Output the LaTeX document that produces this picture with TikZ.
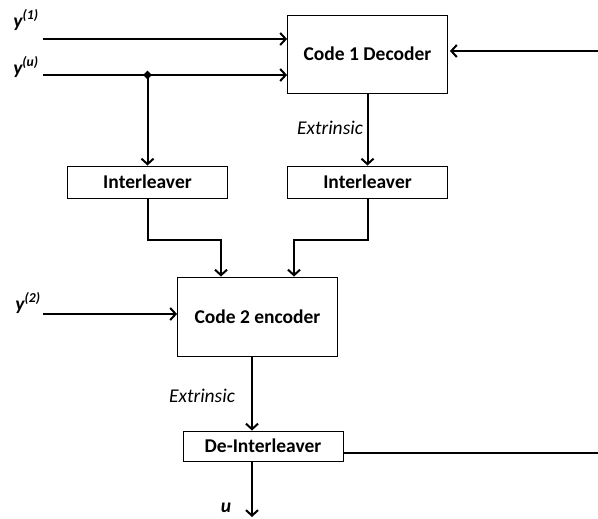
\documentclass[tikz,border=0pt]{standalone}
\usepackage{fontspec}
\setmainfont{Carlito}
\usetikzlibrary{arrows.meta,shapes.geometric}

\begin{document}
\begin{tikzpicture}[x=1pt, y=-1pt,
		block/.style = {draw, line width=0.9pt, minimum width=160pt, inner sep=0pt, font=\fontsize{19.5}{22}\selectfont\bfseries},
		sig/.style = {line width=2pt, -{Straight Barb[length=5.5pt,width=12pt,line width=2pt]}},
		lbl/.style = {font=\fontsize{19.5}{22}\selectfont\bfseries\itshape, inner sep=0pt},
		ext/.style = {font=\fontsize{19.5}{22}\selectfont\itshape, inner sep=0pt}]
			\useasboundingbox (0,0) rectangle (598,519);

			\node[block, minimum height=78pt] (dec1) at (367.5,54) {Code 1 Decoder};
			\node[block, minimum height=32pt] (il1) at (147.5,182) {Interleaver};
			\node[block, minimum height=32pt] (il2) at (367.5,182) {Interleaver};
			\node[block, minimum height=79pt] (enc2) at (257.5,316.5) {Code 2 encoder};
			\node[block, minimum height=30pt] (deil) at (263,446) {De-Interleaver};

			\node[lbl] (y1) at (26,20) {y\textsuperscript{(1)}};
			\node[lbl] (yu) at (26,67) {y\textsuperscript{(u)}};
			\node[lbl] (y2) at (28,303) {y\textsuperscript{(2)}};
			\node[lbl] (u) at (226,508) {u};
			\node[ext] (x1) at (330,128) {Extrinsic};
			\node[ext] (x2) at (202,396) {Extrinsic};

			\coordinate (in1) at (43,39);
			\coordinate (inu) at (43,75);
			\coordinate (in2) at (43,314);
			\coordinate (fb1) at (598,51);
			\coordinate (fb2) at (598,453);
			\coordinate (uend) at (252,517);
			\node[diamond, fill, inner sep=0pt, minimum size=9pt] (j) at (147.5,75) {};

			\draw[sig] (in1) -- (in1 -| dec1.west);
			\draw[sig] (inu) -- (inu -| dec1.west);
			\draw[sig] (j.center) -- (il1.north);
			\draw[sig, shorten >=2pt] (fb1) -- (fb1 -| dec1.east);
			\draw[sig] (dec1.south) -- (il2.north);

			\draw[sig] (il1.south) -- ++(0,42) -| ([xshift=-36.5pt]enc2.north);
			\draw[sig] (il2.south) -- ++(0,42) -| ([xshift=36.5pt]enc2.north);
			\draw[sig] (in2) -- (in2 -| enc2.west);

			\draw[sig] (enc2.south -| uend) -- (deil.north -| uend);
			\draw[sig] (deil.south -| uend) -- (uend);
			\draw[line width=2pt] (deil.east |- fb2) -- (fb2);
		\end{tikzpicture}
\end{document}
